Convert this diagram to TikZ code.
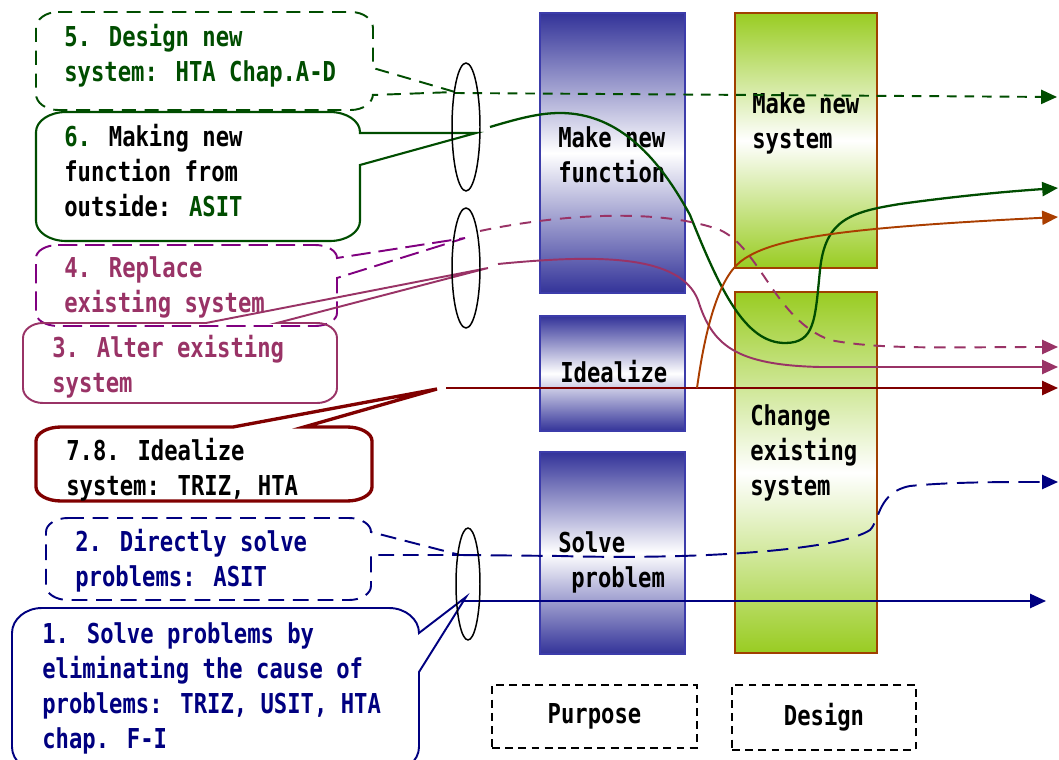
\documentclass[tikz,border=0pt]{standalone}
\usepackage{fontspec}
\newfontfamily\gfont[FakeStretch=0.81]{DejaVu Sans Mono}
\usetikzlibrary{arrows.meta,shapes.geometric}
\definecolor{cgreen}{RGB}{0,77,0}
\definecolor{cpurple}{RGB}{128,0,128}
\definecolor{cmauve}{RGB}{153,51,102}
\definecolor{cdred}{RGB}{128,0,0}
\definecolor{cnavy}{RGB}{0,0,128}
\definecolor{corange}{RGB}{170,62,0}
\definecolor{colblue}{RGB}{51,51,153}
\definecolor{colblueB}{RGB}{60,60,170}
\definecolor{colgreen}{RGB}{153,204,34}
\definecolor{colgreenB}{RGB}{160,64,0}
\newcommand\lnh{\rule{0pt}{12pt}}
\def\cbrx{22}\def\cbry{16}
% rounded callout, wedge on right side
\newcommand\calloutR[8]{%
  \draw[#1] ({#2+\cbrx},#3) -- ({#4-\cbrx},#3)
    .. controls ({#4-0.45*\cbrx},#3) and (#4,{#3+0.45*\cbry}) .. (#4,{#3+\cbry})
    -- (#4,#6) -- (#7) -- (#4,#8) -- (#4,{#5-\cbry})
    .. controls (#4,{#5-0.45*\cbry}) and ({#4-0.45*\cbrx},#5) .. ({#4-\cbrx},#5)
    -- ({#2+\cbrx},#5)
    .. controls ({#2+0.45*\cbrx},#5) and (#2,{#5-0.45*\cbry}) .. (#2,{#5-\cbry})
    -- (#2,{#3+\cbry})
    .. controls (#2,{#3+0.45*\cbry}) and ({#2+0.45*\cbrx},#3) .. ({#2+\cbrx},#3) -- cycle;}
% rounded callout, wedge on top side
\newcommand\calloutT[8]{%
  \draw[#1] ({#2+\cbrx},#3) -- (#6,#3) -- (#7) -- (#8,#3) -- ({#4-\cbrx},#3)
    .. controls ({#4-0.45*\cbrx},#3) and (#4,{#3+0.45*\cbry}) .. (#4,{#3+\cbry})
    -- (#4,{#5-\cbry})
    .. controls (#4,{#5-0.45*\cbry}) and ({#4-0.45*\cbrx},#5) .. ({#4-\cbrx},#5)
    -- ({#2+\cbrx},#5)
    .. controls ({#2+0.45*\cbrx},#5) and (#2,{#5-0.45*\cbry}) .. (#2,{#5-\cbry})
    -- (#2,{#3+\cbry})
    .. controls (#2,{#3+0.45*\cbry}) and ({#2+0.45*\cbrx},#3) .. ({#2+\cbrx},#3) -- cycle;}
\begin{document}
\begin{tikzpicture}[x=0.02cm,y=-0.02cm,
  txt/.style={font=\gfont\bfseries\fontsize{15.6pt}{19.9pt}\selectfont, inner sep=0pt, align=left, anchor=north west},
  bluecol/.style={draw=colblueB, line width=1pt, top color=colblue, bottom color=colblue, middle color=white},
  greencol/.style={draw=colgreenB, line width=1.4pt, top color=colgreen, bottom color=colgreen, middle color=white},
  tip/.style={-{Triangle[length=9pt,width=8pt]}},
  oval/.style={draw=black, line width=0.85pt, ellipse, inner sep=0pt},
  labbox/.style={draw=black, line width=0.7pt, dash pattern=on 4.5pt off 3pt, inner sep=0pt,
    font=\gfont\bfseries\fontsize{15.6pt}{19.9pt}\selectfont}]
\useasboundingbox (0,0) rectangle (1059,760);
\clip (0,0) rectangle (1059,760);
\fill[white] (0,0) rectangle (1059,760);

% columns
\draw[bluecol] (540,13) rectangle (685,293);
\draw[bluecol] (540,316) rectangle (685,431);
\draw[bluecol] (540,452) rectangle (685,654);
\draw[greencol] (735,13) rectangle (877,268);
\draw[greencol] (735,292) rectangle (877,653);

\node[txt] (tmf) at (558,126) {\lnh Make new\\\lnh function};
\node[txt] (tid) at (560,360) {\lnh Idealize};
\node[txt] (tsp) at (558,531) {\lnh Solve\\\lnh\hspace*{0.26cm}problem};
\node[txt] (tms) at (752,92) {\lnh Make new\\\lnh system};
\node[txt] (tce) at (750,404) {\lnh Change\\\lnh existing\\\lnh system};

\node[labbox, minimum width=4.1cm, minimum height=1.26cm] (purpose) at (594.5,716.5) {Purpose};
\node[labbox, minimum width=3.68cm, minimum height=1.3cm] (design) at (824,717.5) {Design};

% callout tips and connector ends
\coordinate (t5) at (455,92);
\coordinate (t6) at (476,133);
\coordinate (t4) at (465,238);
\coordinate (t3) at (488,268);
\coordinate (t7) at (437,389);
\coordinate (t2) at (460,555);
\coordinate (t1) at (466,597);
\coordinate (s5) at (455,93);   \coordinate (a5) at (1057,97);
\coordinate (s6) at (490,127);  \coordinate (a6) at (1058,188);
\coordinate (s4) at (480,231);  \coordinate (a4) at (1058,347);
\coordinate (s3) at (498,264);  \coordinate (a3) at (1058,367);
\coordinate (s7) at (446,388);  \coordinate (a7) at (1058,388);
\coordinate (o0) at (697,388);  \coordinate (a8) at (1058,217);
\coordinate (s2) at (460,555);  \coordinate (a2) at (1058,482);
\coordinate (s1) at (464,601);  \coordinate (a1) at (1046,601);

% connectors
\draw[cgreen, line width=1.1pt, dash pattern=on 5.5pt off 4.5pt, tip] (s5) -- (a5);
\draw[cgreen, line width=1.3pt, tip] (s6) .. controls (520,118) and (540,113) .. (560,113)
  .. controls (620,113) and (660,160) .. (690,215)
  .. controls (720,290) and (745,343) .. (785,343)
  .. controls (815,343) and (815,320) .. (820,270)
  .. controls (825,220) and (850,212) .. (900,204)
  .. controls (950,197) and (1000,192) .. (a6);
\draw[cmauve, line width=1.1pt, dash pattern=on 6.5pt off 5pt, tip] (s4) .. controls (560,214) and (660,208) .. (720,230)
  .. controls (760,248) and (775,320) .. (830,340)
  .. controls (880,350) and (950,347) .. (a4);
\draw[cmauve, line width=1.1pt, tip] (s3) .. controls (600,254) and (680,255) .. (698,300)
  .. controls (712,345) and (735,365) .. (820,367) -- (a3);
\draw[cdred, line width=1.1pt, tip] (s7) -- (a7);
\draw[corange, line width=1.1pt, tip] (o0) .. controls (705,330) and (718,280) .. (740,262)
  .. controls (770,238) and (840,228) .. (a8);
\draw[cnavy, line width=1.1pt, dash pattern=on 12pt off 5.5pt, tip] (s2) -- (560,556)
  .. controls (700,560) and (840,550) .. (870,530)
  .. controls (880,520) and (878,492) .. (910,486)
  .. controls (950,482) and (1000,482) .. (a2);
\draw[cnavy, line width=1.1pt, tip] (s1) -- (a1);

% callouts
\def\cbrx{22}\def\cbry{16}
\calloutR{cgreen, line width=1.1pt, dash pattern=on 8pt off 5pt}{36}{12}{373}{110}{68}{t5}{95}
\def\cbrx{30}\def\cbry{20}
\calloutR{cgreen, line width=1.2pt}{36}{112}{360}{241}{133}{t6}{165}
\def\cbrx{22}\def\cbry{13}
\calloutR{cpurple, line width=1.1pt, dash pattern=on 11pt off 4.5pt}{36}{245}{337}{326}{258}{t4}{278}
\def\cbrx{20}\def\cbry{15}
\calloutT{cmauve, line width=1.1pt}{23}{323}{337}{403}{206}{t3}{277}
\def\cbrx{25}\def\cbry{14}
\calloutT{cdred, line width=1.9pt}{36}{427}{372}{501}{233}{t7}{304}
\def\cbrx{22}\def\cbry{14}
\calloutR{cnavy, line width=1.1pt, dash pattern=on 9pt off 5pt}{46}{518}{371}{600}{532}{t2}{555}
\def\cbrx{30}\def\cbry{25}
\calloutR{cnavy, line width=1.1pt}{12}{608}{419}{772}{633}{t1}{672}

% callout texts
\node[txt, text=cgreen] (c5) at (64,24) {\lnh 5. Design new\\\lnh system: HTA Chap.A-D};
\node[txt, text=black] (c6) at (64,124) {\lnh{\color{cgreen}6.} Making new\\\lnh function from\\\lnh outside: {\color{cgreen}ASIT}};
\node[txt, text=cmauve] (c4) at (64,256) {\lnh 4. Replace\\\lnh existing system};
\node[txt, text=cmauve] (c3) at (52,335) {\lnh 3. Alter existing\\\lnh system};
\node[txt, text=black] (c7) at (66,438) {\lnh 7.8. Idealize\\\lnh system: TRIZ, HTA};
\node[txt, text=cnavy] (c2) at (75,529) {\lnh 2. Directly solve\\\lnh problems: ASIT};
\node[txt, text=cnavy] (c1) at (42,622) {\lnh 1. Solve problems by\\\lnh eliminating the cause of\\\lnh problems: TRIZ, USIT, HTA\\\lnh chap. F-I};

% ellipses
\node[oval, minimum width=0.56cm, minimum height=2.56cm] (el1) at (466,127) {};
\node[oval, minimum width=0.56cm, minimum height=2.4cm] (el2) at (466,268) {};
\node[oval, minimum width=0.48cm, minimum height=2.24cm] (el3) at (468,584) {};
\end{tikzpicture}
\end{document}
